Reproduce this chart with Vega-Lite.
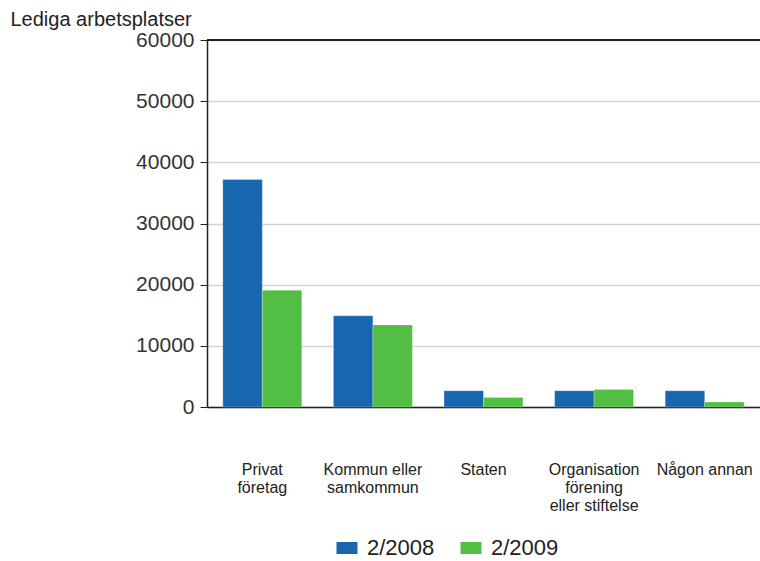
{
  "$schema": "https://vega.github.io/schema/vega-lite/v6.json",
  "width": 553,
  "height": 367,
  "autosize": {"type": "none"},
  "padding": {"left": 207, "top": 40, "right": 0, "bottom": 154},
  "config": {"view": {"stroke": "#d4d4d4"}, "font": "Liberation Sans"},
  "data": {
    "values": [
      {"sektor": "Privat företag", "period": "2/2008", "antal": 37200},
      {"sektor": "Privat företag", "period": "2/2009", "antal": 19100},
      {"sektor": "Kommun eller samkommun", "period": "2/2008", "antal": 14900},
      {"sektor": "Kommun eller samkommun", "period": "2/2009", "antal": 13400},
      {"sektor": "Staten", "period": "2/2008", "antal": 2650},
      {"sektor": "Staten", "period": "2/2009", "antal": 1550},
      {"sektor": "Organisation förening eller stiftelse", "period": "2/2008", "antal": 2650},
      {"sektor": "Organisation förening eller stiftelse", "period": "2/2009", "antal": 2850},
      {"sektor": "Någon annan", "period": "2/2008", "antal": 2650},
      {"sektor": "Någon annan", "period": "2/2009", "antal": 800}
    ]
  },
  "layer": [
    {
      "mark": {"type": "bar", "stroke": "#ffffff", "strokeOpacity": 0.25, "strokeWidth": 1},
      "encoding": {
        "x": {
          "field": "sektor",
          "type": "nominal",
          "sort": ["Privat företag", "Kommun eller samkommun", "Staten", "Organisation förening eller stiftelse", "Någon annan"],
          "scale": {"paddingInner": 0.286, "paddingOuter": 0.143},
          "axis": {
            "title": null,
            "ticks": false,
            "labelAngle": 0,
            "labelPadding": 54,
            "labelFontSize": 16,
            "labelLineHeight": 18,
            "labelBaseline": "top",
            "labelColor": "#222222",
            "labelOverlap": false,
            "labelBound": false,
            "labelLimit": 300,
            "domainColor": "#222222",
            "domainWidth": 1.5,
            "grid": false,
            "labelExpr": "datum.value == 'Privat företag' ? ['Privat', 'företag'] : datum.value == 'Kommun eller samkommun' ? ['Kommun eller', 'samkommun'] : datum.value == 'Organisation förening eller stiftelse' ? ['Organisation', 'förening', 'eller stiftelse'] : datum.value"
          }
        },
        "xOffset": {"field": "period", "type": "nominal"},
        "y": {
          "field": "antal",
          "type": "quantitative",
          "scale": {"domain": [0, 60000]},
          "axis": {
            "values": [0, 10000, 20000, 30000, 40000, 50000, 60000],
            "format": "d",
            "labelFontSize": 21,
            "labelColor": "#333333",
            "labelPadding": 6,
            "tickSize": 7,
            "tickColor": "#222222",
            "domainColor": "#222222",
            "domainWidth": 1.5,
            "gridColor": "#d4d4d4",
            "gridWidth": 1.5,
            "title": "Lediga arbetsplatser",
            "titleAngle": 0,
            "titleAlign": "left",
            "titleBaseline": "alphabetic",
            "titleX": -197,
            "titleY": -15,
            "titleFontSize": 20,
            "titleFontWeight": "normal",
            "titleColor": "#222222"
          }
        },
        "color": {
          "field": "period",
          "type": "nominal",
          "scale": {"range": ["#1866ae", "#52be43"]},
          "legend": {
            "title": null,
            "orient": "none",
            "direction": "horizontal",
            "legendX": 129,
            "legendY": 497,
            "symbolType": "M-1,-0.57H1V0.57H-1Z",
            "symbolSize": 441,
            "symbolStrokeWidth": 0,
            "symbolOpacity": 1,
            "labelFontSize": 22,
            "labelColor": "#222222",
            "labelOffset": 9,
            "columnPadding": 25
          }
        }
      }
    },
    {
      "mark": {"type": "rule", "color": "#222222", "strokeWidth": 1.5},
      "encoding": {"y": {"datum": 60000}}
    }
  ]
}
